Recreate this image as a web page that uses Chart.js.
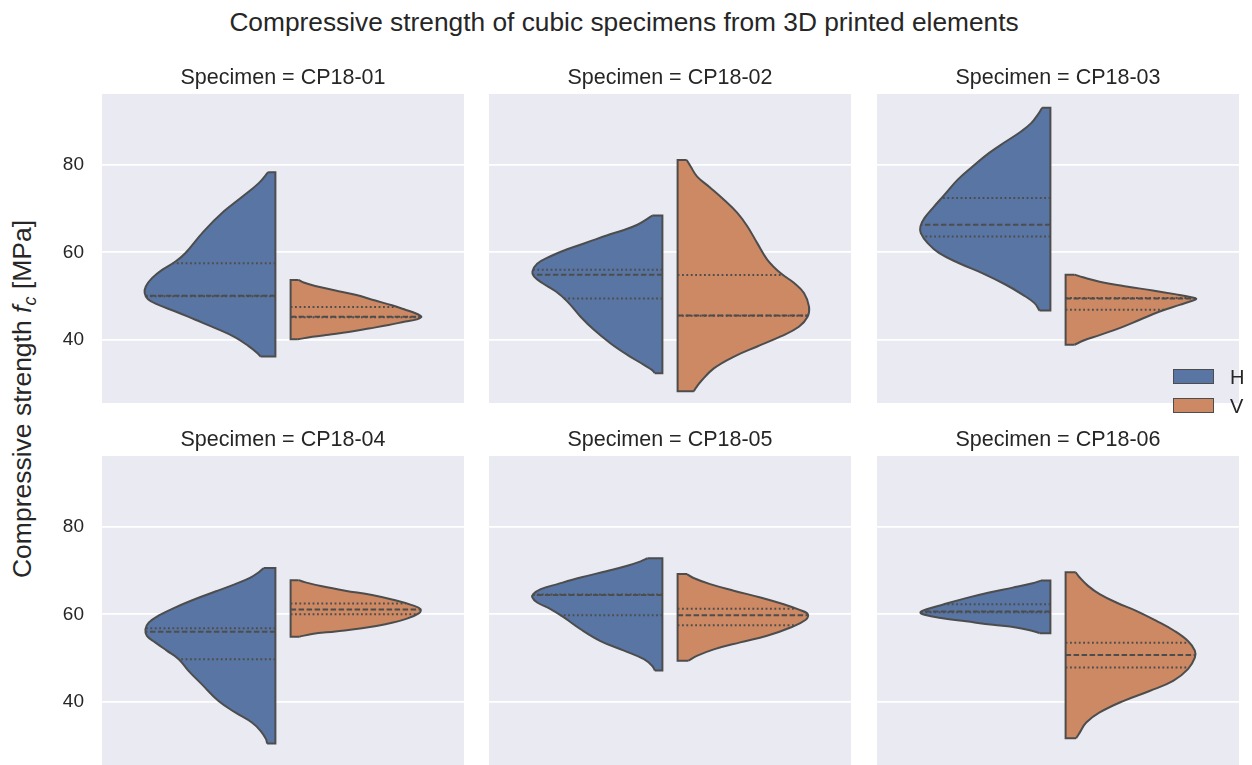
<!DOCTYPE html>
<html>
<head>
<meta charset="utf-8">
<title>Compressive strength of cubic specimens</title>
<script src="https://cdn.jsdelivr.net/npm/chart.js@4.4.1/dist/chart.umd.min.js"></script>
<style>
  body { margin: 0; background: #fff; font-family: "Liberation Sans", Arial, sans-serif; color: #262626; }
  #page { position: relative; width: 1252px; height: 765px; overflow: hidden; }
  #page canvas { position: absolute; }
  .suptitle { position: absolute; left: 0; top: 7px; width: 1248px; text-align: center; font-size: 26.3px; line-height: 30px; }
  .ylabel { position: absolute; left: -178px; top: 384px; width: 400px; height: 30px; line-height: 30px;
            text-align: center; font-size: 26.5px; transform: rotate(-90deg); white-space: nowrap; }
  .ylabel sub { font-size: 18px; vertical-align: -5px; line-height: 0; }
  .swatch { position: absolute; width: 39px; height: 13px; border: 1.5px solid #4d4d4d; }
  .legend-label { position: absolute; font-size: 20px; line-height: 20px; }
</style>
</head>
<body>
<div id="page">
  <div class="suptitle">Compressive strength of cubic specimens from 3D printed elements</div>
  <div class="ylabel">Compressive strength <i>f<sub>c</sub></i> [MPa]</div>
</div>
<script>
// specimens and print directions
const specimens = ['CP18-01', 'CP18-02', 'CP18-03', 'CP18-04', 'CP18-05', 'CP18-06'];
const directions = ['H', 'V'];
const yTicks = [40, 60, 80];

// violin outlines: strength (MPa, top to bottom) and half-width of the density
const hStrength = [
  [78.3, 75.8, 72.8, 69.3, 64.8, 59.8, 57.9, 56.0, 54.1, 52.2, 50.7, 49.3, 48.0, 46.5, 44.6, 42.7, 40.6, 38.6, 37.1, 36.2],
  [68.4, 67.4, 66.3, 65.1, 63.9, 62.3, 60.7, 59.1, 57.4, 55.6, 54.5, 53.0, 51.1, 48.8, 45.3, 42.3, 39.2, 36.6, 34.3, 33.1, 32.4],
  [93.0, 91.4, 89.5, 87.6, 85.3, 82.7, 79.6, 76.6, 73.1, 70.1, 67.8, 65.9, 64.4, 62.1, 59.8, 57.5, 55.2, 52.6, 50.3, 48.4, 46.7],
  [70.6, 69.6, 68.4, 66.9, 65.2, 63.5, 61.6, 59.7, 58.1, 56.6, 55.1, 53.6, 51.7, 49.75, 47.1, 44.0, 40.2, 37.6, 35.3, 33.4, 31.5, 30.5],
  [72.8, 72.1, 71.1, 69.9, 68.4, 66.9, 65.75, 64.6, 63.85, 62.7, 61.2, 59.3, 56.6, 53.9, 51.7, 49.75, 48.2, 47.2],
  [67.7, 67.1, 66.1, 65.0, 63.7, 62.2, 61.1, 60.5, 59.9, 59.1, 58.4, 57.6, 57.0, 56.2, 55.7]
];
const hWidth = [
  [0.020, 0.046, 0.090, 0.143, 0.198, 0.249, 0.276, 0.313, 0.341, 0.358, 0.361, 0.352, 0.323, 0.276, 0.221, 0.166, 0.111, 0.074, 0.051, 0.041],
  [0.028, 0.046, 0.069, 0.106, 0.152, 0.207, 0.263, 0.309, 0.346, 0.359, 0.355, 0.332, 0.295, 0.263, 0.226, 0.189, 0.143, 0.097, 0.051, 0.028, 0.021],
  [0.023, 0.035, 0.053, 0.081, 0.123, 0.169, 0.215, 0.256, 0.293, 0.325, 0.348, 0.359, 0.358, 0.339, 0.307, 0.252, 0.187, 0.123, 0.076, 0.044, 0.030],
  [0.032, 0.046, 0.069, 0.111, 0.166, 0.221, 0.276, 0.323, 0.350, 0.359, 0.355, 0.332, 0.300, 0.267, 0.240, 0.203, 0.157, 0.111, 0.065, 0.041, 0.026, 0.023],
  [0.041, 0.060, 0.097, 0.152, 0.226, 0.290, 0.336, 0.357, 0.359, 0.346, 0.309, 0.272, 0.226, 0.171, 0.106, 0.051, 0.028, 0.021],
  [0.026, 0.049, 0.104, 0.169, 0.233, 0.298, 0.344, 0.359, 0.348, 0.298, 0.233, 0.159, 0.095, 0.049, 0.030]
];
const vStrength = [
  [53.7, 53.1, 52.3, 51.3, 50.3, 49.0, 47.9, 46.9, 46.1, 45.5, 45.2, 44.7, 44.2, 43.4, 42.6, 41.8, 41.2, 40.7, 40.15],
  [81.1, 79.6, 77.3, 74.7, 72.0, 69.0, 65.9, 62.1, 58.3, 55.2, 53.0, 50.7, 47.6, 45.3, 43.0, 40.8, 38.5, 36.2, 33.5, 30.5, 29.0, 28.3],
  [54.9, 54.3, 53.3, 52.2, 51.3, 50.4, 49.75, 49.4, 49.0, 48.0, 46.5, 44.6, 42.7, 41.1, 39.8, 38.9],
  [67.8, 67.3, 66.4, 65.4, 64.4, 63.2, 62.1, 61.2, 60.2, 58.9, 57.75, 56.8, 56.1, 55.5, 54.9],
  [69.2, 68.3, 66.9, 65.4, 63.85, 62.3, 60.95, 60.0, 58.7, 57.0, 55.1, 53.6, 52.0, 50.5, 49.4],
  [69.6, 68.4, 66.5, 64.6, 62.7, 60.8, 58.5, 56.2, 53.9, 51.7, 50.1, 47.5, 44.8, 42.5, 40.2, 37.6, 35.3, 33.0, 31.7]
];
const vWidth = [
  [0.022, 0.036, 0.068, 0.124, 0.179, 0.234, 0.280, 0.317, 0.345, 0.359, 0.361, 0.349, 0.317, 0.271, 0.216, 0.160, 0.105, 0.060, 0.020],
  [0.025, 0.036, 0.054, 0.091, 0.128, 0.165, 0.193, 0.220, 0.248, 0.285, 0.322, 0.349, 0.363, 0.359, 0.335, 0.285, 0.220, 0.156, 0.100, 0.064, 0.050, 0.045],
  [0.025, 0.048, 0.094, 0.168, 0.241, 0.306, 0.347, 0.361, 0.352, 0.315, 0.260, 0.205, 0.149, 0.094, 0.048, 0.025],
  [0.022, 0.041, 0.087, 0.151, 0.225, 0.289, 0.335, 0.359, 0.354, 0.317, 0.262, 0.197, 0.124, 0.059, 0.024],
  [0.026, 0.044, 0.090, 0.155, 0.229, 0.293, 0.339, 0.360, 0.353, 0.312, 0.247, 0.173, 0.100, 0.053, 0.030],
  [0.028, 0.039, 0.062, 0.094, 0.140, 0.195, 0.251, 0.301, 0.338, 0.357, 0.357, 0.338, 0.297, 0.232, 0.159, 0.094, 0.057, 0.039, 0.029]
];

// inner quartiles [Q1, median, Q3]
const hQuartiles = [[50.0, 50.1, 57.5], [49.45, 54.9, 56.0], [63.6, 66.3, 72.4], [49.75, 56.0, 56.8], [59.8, 64.4, 64.5], [60.5, 60.65, 62.3]];
const vQuartiles = [[45.2, 45.3, 47.5], [45.5, 45.6, 54.8], [46.9, 49.45, 49.6], [60.0, 61.1, 62.5], [57.5, 59.8, 61.3], [47.85, 50.7, 53.5]];

const fillColors = ['#5875a3', '#cc8963'];
const lineColor = '#4d4d4d';
const gap = 0.021;

Chart.defaults.font.family = '"Liberation Sans", Arial, sans-serif';
Chart.defaults.color = '#262626';

const panelLeft = [102, 489, 877];
const panelTop = [94, 456];
const panelW = 362, panelH = 309, axisW = 60, titleH = 36;

// half-width of the outline at a given strength
function widthAt(strength, width, v) {
  for (let k = 0; k < strength.length - 1; k++) {
    const a = strength[k], b = strength[k + 1];
    if (v <= a && v >= b) return width[k] + (width[k + 1] - width[k]) * (a - v) / (a - b);
  }
  return 0;
}

function violin(strength, width, quartiles, side, color) {
  const pt = (v, w) => ({ x: side * (gap + w), y: v });
  const n = strength.length;
  const sets = [{
    data: strength.map((v, k) => pt(v, width[k])),
    backgroundColor: color, borderColor: lineColor, borderWidth: 2,
    fill: { value: side * gap }, tension: 0.4, pointRadius: 0, order: 3
  }, {
    data: [pt(strength[0], width[0]), pt(strength[0], 0), pt(strength[n - 1], 0), pt(strength[n - 1], width[n - 1])],
    borderColor: lineColor, borderWidth: 2, fill: false, tension: 0, pointRadius: 0, order: 2
  }];
  quartiles.forEach((q, k) => {
    sets.push({
      data: [pt(q, 0), pt(q, widthAt(strength, width, q))],
      borderColor: lineColor, borderWidth: 2, fill: false, pointRadius: 0, order: 1,
      borderDash: k === 1 ? [5.5, 2.5] : [1.8, 2.6]
    });
  });
  return sets;
}

const panelBackground = {
  id: 'panelBackground',
  beforeDraw(chart) {
    const { ctx, chartArea: a } = chart;
    ctx.save();
    ctx.fillStyle = '#eaeaf2';
    ctx.fillRect(a.left, a.top, a.width, a.height);
    ctx.restore();
  }
};

const page = document.getElementById('page');

specimens.forEach((name, i) => {
  const col = i % 3, row = Math.floor(i / 3);
  const canvas = document.createElement('canvas');
  canvas.width = panelW + axisW;
  canvas.height = panelH + titleH;
  canvas.style.left = (panelLeft[col] - axisW) + 'px';
  canvas.style.top = (panelTop[row] - titleH) + 'px';
  page.appendChild(canvas);

  new Chart(canvas, {
    type: 'line',
    data: {
      datasets: [
        ...violin(hStrength[i], hWidth[i], hQuartiles[i], -1, fillColors[0]),
        ...violin(vStrength[i], vWidth[i], vQuartiles[i], 1, fillColors[1])
      ]
    },
    options: {
      indexAxis: 'y',
      responsive: false,
      animation: false,
      devicePixelRatio: 1,
      layout: { padding: 0, autoPadding: false },
      scales: {
        x: { type: 'linear', min: -0.5, max: 0.5, display: false },
        y: {
          type: 'linear', position: 'left', min: 25.6, max: 96.15,
          afterBuildTicks: s => { s.ticks = yTicks.map(v => ({ value: v })); },
          afterFit: s => {
            s.width = axisW;
            s.paddingTop = 0;
            s.paddingBottom = 0;
          },
          grid: { color: '#ffffff', lineWidth: 1.8, drawTicks: false },
          border: { display: false },
          ticks: { display: col === 0, padding: 18, font: { size: 19 }, color: '#262626' }
        }
      },
      plugins: {
        legend: { display: false },
        tooltip: { enabled: false },
        title: {
          display: true, text: 'Specimen = ' + name, fullSize: false,
          font: { size: 21.5, weight: 'normal' }, color: '#262626',
          padding: { top: 7, bottom: 3.2 }
        }
      }
    },
    plugins: [panelBackground]
  });
});

// legend for print direction
directions.forEach((d, k) => {
  const sw = document.createElement('div');
  sw.className = 'swatch';
  sw.style.left = '1173px';
  sw.style.top = (369 + k * 28.7) + 'px';
  sw.style.background = fillColors[k];
  page.appendChild(sw);
  const lb = document.createElement('div');
  lb.className = 'legend-label';
  lb.textContent = d;
  lb.style.left = '1230px';
  lb.style.top = (367 + k * 28.7) + 'px';
  page.appendChild(lb);
});
</script>
</body>
</html>
